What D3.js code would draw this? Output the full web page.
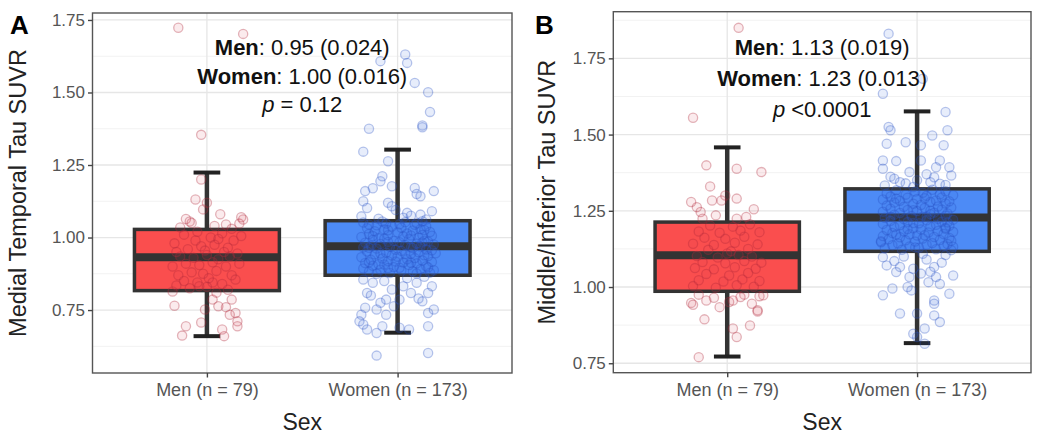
<!DOCTYPE html>
<html>
<head>
<meta charset="utf-8">
<script src="https://cdn.jsdelivr.net/npm/d3@7/dist/d3.min.js"></script>
<style>
  html, body { margin: 0; padding: 0; background: #fff; }
  svg { display: block; font-family: "Liberation Sans", Arial, sans-serif; }
</style>
</head>
<body>
<svg id="chart" width="1050" height="445"></svg>
<script>
// ---------------- DATA ----------------
const categories = ["Men (n = 79)", "Women (n = 173)"];
const yTicks = [0.75, 1.00, 1.25, 1.50, 1.75];
const yMinor = [0.625, 0.875, 1.125, 1.375, 1.625, 1.875];

// box stats: [lower whisker, Q1, median, Q3, upper whisker]
const medialMenBox   = [0.660, 0.817, 0.932, 1.028, 1.224];
const medialWomenBox = [0.672, 0.870, 0.970, 1.058, 1.303];
const inferiorMenBox   = [0.772, 0.986, 1.104, 1.213, 1.458];
const inferiorWomenBox = [0.816, 1.117, 1.228, 1.322, 1.576];

// jittered points: [horizontal jitter (fraction of category step), value]
const medialMenPts = [
  [-0.15,1.723],[0.19,1.702],[-0.03,1.354],[-0.03,1.200],[-0.06,1.131],[-0.02,1.097],[-0.11,1.064],[-0.08,1.050],[0.19,1.062],[0.17,1.048],[0.13,1.030],
  [-0.18,0.814],[-0.17,0.765],[-0.11,0.694],[-0.13,0.662],[-0.03,0.707],[-0.01,0.752],[0.03,0.786],[0.06,0.763],[0.10,0.760],[0.13,0.786],[0.15,0.740],[0.16,0.711],[0.16,0.694],[0.08,0.683],[0.09,0.660],[-0.04,0.832],[0.05,0.810],[0.03,0.845],[0.12,0.734],
  [0.04,1.040],[-0.14,1.035],[0.18,1.070],[-0.09,1.055],[0.10,1.045],[0.00,1.120],[0.07,1.080],
  [-0.17,0.98],[-0.12,1.01],[-0.05,1.02],[0.02,1.00],[0.08,1.015],[0.14,0.99],[0.18,1.005],
  [-0.16,0.95],[-0.10,0.96],[-0.03,0.97],[0.04,0.975],[0.11,0.965],[0.16,0.945],
  [-0.14,0.935],[-0.07,0.93],[0.00,0.94],[0.06,0.925],[0.12,0.935],[0.09,0.95],[-0.01,0.955],
  [-0.18,0.90],[-0.11,0.91],[-0.04,0.905],[0.03,0.915],[0.10,0.90],[0.17,0.91],
  [-0.15,0.87],[-0.08,0.88],[-0.02,0.875],[0.05,0.885],[0.13,0.87],
  [-0.12,0.85],[-0.05,0.845],[0.01,0.86],[0.08,0.84],[0.15,0.855],
  [-0.09,0.825],[0.00,0.83],[0.11,0.82],[-0.16,0.835],[0.06,0.995],[-0.06,0.99]
];
const medialWomenPts = [
  [0.04,1.631],[-0.09,1.608],[0.05,1.602],[0.09,1.533],[0.16,1.501],[0.17,1.433],[0.13,1.386],[0.13,1.380],[-0.15,1.375],[-0.18,1.296],[-0.05,1.263],[-0.08,1.211],[-0.09,1.194],[-0.03,1.177],[-0.17,1.160],[-0.13,1.170],[0.09,1.171],[0.12,1.142],[0.10,1.150],[0.19,1.160],[-0.18,1.125],[-0.16,1.102],[-0.05,1.120],[-0.03,1.108],[0.05,1.085],[0.18,1.091],[0.12,1.079],[-0.19,1.073],[0.03,1.068],
  [-0.16,0.809],[-0.06,0.786],[-0.09,0.775],[-0.11,0.752],[-0.17,0.758],[-0.19,0.734],[-0.20,0.711],[-0.18,0.700],[-0.16,0.683],[-0.11,0.671],[-0.08,0.694],[0.01,0.689],[0.06,0.683],[0.16,0.694],[0.16,0.740],[0.19,0.752],[0.18,0.832],[0.16,0.809],[0.03,0.832],[0.07,0.809],[-0.03,0.821],[-0.02,0.763],[-0.11,0.593],[0.16,0.602],[-0.13,0.844],[0.10,0.844],[-0.06,0.734],[0.01,0.786],[0.13,0.780],
  [-0.10,1.065],[0.15,1.062],[-0.01,1.095],[0.07,1.075],[-0.18,0.855],[0.05,0.860],[-0.07,0.850],[0.14,0.865],[-0.14,0.800],[0.11,0.790],
  [-0.15,0.882],[-0.04,0.878],[0.08,0.884],[0.17,0.879],[0.02,0.886],
  [-0.18,0.893],[-0.09,0.889],[0.01,0.896],[0.12,0.891],[0.19,0.887],
  [-0.13,0.903],[-0.02,0.898],[0.06,0.905],[0.15,0.901],[-0.07,0.907],
  [-0.17,0.912],[-0.10,0.908],[0.03,0.914],[0.10,0.911],[0.18,0.916],
  [-0.14,0.923],[-0.05,0.918],[0.05,0.925],[0.13,0.921],[-0.01,0.917],
  [-0.19,0.932],[-0.08,0.928],[0.00,0.934],[0.09,0.929],[0.16,0.936],
  [-0.12,0.942],[-0.03,0.938],[0.07,0.944],[0.14,0.939],[0.20,0.946],
  [-0.16,0.952],[-0.06,0.948],[0.02,0.954],[0.11,0.949],[0.18,0.956],
  [-0.11,0.962],[-0.01,0.958],[0.08,0.964],[0.15,0.959],[-0.18,0.966],
  [-0.14,0.972],[-0.04,0.968],[0.04,0.974],[0.12,0.969],[0.19,0.976],
  [-0.17,0.982],[-0.09,0.978],[0.01,0.984],[0.10,0.979],[0.16,0.986],
  [-0.13,0.992],[-0.02,0.988],[0.06,0.994],[0.14,0.989],[-0.07,0.996],
  [-0.19,1.002],[-0.10,0.998],[0.03,1.004],[0.11,0.999],[0.18,1.006],
  [-0.15,1.012],[-0.05,1.008],[0.05,1.014],[0.13,1.009],
  [-0.12,1.022],[0.00,1.018],[0.08,1.024],[0.17,1.019],
  [-0.16,1.032],[-0.07,1.028],[0.02,1.034],[0.12,1.029],
  [-0.11,1.042],[-0.03,1.038],[0.09,1.044],[0.15,1.039],
  [-0.18,1.052],[-0.06,1.048],[0.04,1.053],[0.10,1.049],
  [-0.11,0.875],[0.10,0.876],[-0.05,0.895],[0.16,0.897],[-0.15,0.915],[0.07,0.913],[-0.09,0.945],[0.04,0.943],[-0.15,0.965],[0.07,0.967],
  [-0.05,0.985],[0.13,0.983],[-0.13,1.005],[0.07,1.007],[-0.05,1.025],[0.14,1.026],[-0.15,1.045],[0.01,1.046],[-0.08,1.055],[0.13,1.056]
];
const inferiorMenPts = [
  [0.06,1.850],[-0.18,1.555],[-0.11,1.399],[0.05,1.388],[0.18,1.377],[-0.09,1.330],[0.05,1.290],[-0.08,1.284],[-0.03,1.284],[-0.19,1.279],[-0.16,1.262],[-0.14,1.246],[-0.13,1.224],[0.05,1.224],
  [-0.19,0.948],[-0.18,0.942],[-0.11,0.956],[-0.04,0.934],[-0.12,0.894],[0.03,0.864],[0.05,0.836],[0.12,0.874],[0.16,0.924],[0.16,0.920],[0.19,0.973],[0.17,0.970],[-0.15,0.770],[0.03,0.956],[0.07,0.967],[0.01,0.951],
  [-0.06,1.235],[0.10,1.230],[0.14,1.255],[-0.01,1.300],[0.09,0.975],[-0.07,0.965],[0.13,0.945],[-0.15,0.975],
  [-0.18,1.003],[-0.06,0.998],[0.05,1.006],[0.14,1.001],
  [-0.15,1.022],[-0.02,1.018],[0.08,1.025],[0.17,1.020],
  [-0.11,1.043],[0.01,1.038],[0.11,1.046],
  [-0.17,1.062],[-0.07,1.058],[0.04,1.065],[0.15,1.060],
  [-0.13,1.082],[-0.01,1.078],[0.09,1.085],[0.18,1.080],
  [-0.16,1.102],[-0.05,1.097],[0.06,1.105],[0.13,1.100],
  [-0.10,1.122],[0.02,1.117],[0.11,1.125],
  [-0.18,1.142],[-0.07,1.138],[0.04,1.145],[0.16,1.140],
  [-0.12,1.162],[-0.01,1.158],[0.09,1.165],
  [-0.15,1.182],[-0.04,1.178],[0.07,1.185],[0.17,1.180],
  [-0.09,1.202],[0.03,1.198],[0.12,1.206],[0.00,1.110]
];
const inferiorWomenPts = [
  [-0.15,1.831],[-0.18,1.634],[0.03,1.683],[0.15,1.574],[-0.15,1.525],[-0.14,1.514],[0.16,1.514],[0.08,1.497],[-0.06,1.475],[-0.16,1.470],[0.02,1.465],[0.14,1.465],[-0.18,1.415],[-0.11,1.413],[0.02,1.415],[0.12,1.415],[0.10,1.393],[0.17,1.393],[-0.18,1.388],[0.18,1.366],[-0.04,1.377],[0.05,1.370],[-0.09,1.344],[0.07,1.344],[0.12,1.339],[-0.17,1.333],[-0.02,1.328],
  [-0.18,1.098],[-0.16,1.071],[-0.11,1.049],[-0.09,1.066],[-0.04,1.033],[0.02,1.044],[0.06,1.016],[0.10,1.033],[0.09,1.066],[0.19,1.038],[0.17,0.978],[-0.18,0.973],[-0.13,0.995],[-0.09,0.913],[0.00,0.913],[0.09,0.956],[0.09,0.945],[0.09,0.907],[0.12,0.885],[0.04,0.864],[0.00,0.836],[0.04,0.814],[-0.02,0.847],[-0.03,0.989],[0.03,1.109],
  [0.00,1.350],[-0.12,1.355],[0.09,1.360],[-0.06,1.340],[0.15,1.335],[-0.14,1.362],
  [-0.07,1.100],[0.05,1.090],[0.13,1.080],[-0.12,1.085],[0.15,1.105],[-0.02,1.060],[0.07,1.050],[-0.05,1.000],[0.12,1.010],
  [-0.17,1.127],[-0.08,1.122],[0.01,1.129],[0.10,1.124],[0.18,1.121],
  [-0.13,1.137],[-0.04,1.133],[0.05,1.139],[0.14,1.134],
  [-0.19,1.147],[-0.10,1.143],[-0.01,1.149],[0.08,1.144],[0.16,1.141],
  [-0.15,1.157],[-0.06,1.153],[0.03,1.159],[0.12,1.154],
  [-0.18,1.167],[-0.09,1.163],[0.00,1.169],[0.09,1.164],[0.17,1.161],
  [-0.13,1.177],[-0.04,1.173],[0.06,1.179],[0.14,1.174],
  [-0.16,1.187],[-0.07,1.183],[0.02,1.189],[0.11,1.184],[0.19,1.181],
  [-0.12,1.197],[-0.02,1.193],[0.07,1.199],[0.15,1.194],
  [-0.18,1.207],[-0.09,1.203],[0.01,1.209],[0.10,1.204],[0.17,1.201],
  [-0.14,1.217],[-0.05,1.213],[0.05,1.219],[0.13,1.214],
  [-0.17,1.227],[-0.07,1.223],[0.02,1.229],[0.11,1.224],[0.19,1.221],
  [-0.12,1.237],[-0.03,1.233],[0.07,1.239],[0.15,1.234],
  [-0.18,1.247],[-0.09,1.243],[0.00,1.249],[0.09,1.244],[0.16,1.241],
  [-0.14,1.257],[-0.05,1.253],[0.04,1.259],[0.13,1.254],
  [-0.16,1.267],[-0.07,1.263],[0.02,1.269],[0.11,1.264],[0.18,1.261],
  [-0.12,1.277],[-0.02,1.273],[0.07,1.279],[0.15,1.274],
  [-0.18,1.287],[-0.09,1.283],[0.00,1.289],[0.10,1.284],[0.17,1.281],
  [-0.14,1.297],[-0.05,1.293],[0.05,1.299],[0.13,1.294],
  [-0.16,1.307],[-0.06,1.303],[0.03,1.309],[0.12,1.304],[0.19,1.301],
  [-0.11,1.317],[-0.01,1.313],[0.08,1.319],[0.15,1.314],
  [-0.01,1.130],[0.19,1.132],[-0.19,1.150],[0.18,1.152],[0.04,1.170],[-0.11,1.172],[-0.05,1.190],[0.15,1.191],
  [-0.02,1.210],[0.16,1.212],[-0.14,1.230],[0.05,1.231],[0.07,1.250],[-0.02,1.252],[-0.11,1.290],[0.04,1.291]
];

const annotA = { men: "0.95 (0.024)", women: "1.00 (0.016)", p: " = 0.12" };
const annotB = { men: "1.13 (0.019)", women: "1.23 (0.013)", p: " <0.0001" };

// ---------------- DRAW ----------------
const svg = d3.select("#chart");
const boxFill = ["#FA4E4E", "#4D8BF6"];
const ptFill = ["rgba(215,60,80,0.10)", "rgba(60,110,220,0.12)"];
const ptStroke = ["rgba(175,40,60,0.34)", "rgba(40,80,195,0.32)"];
const FONT = '"Liberation Sans", Arial, sans-serif';

function drawPanel(cfg) {
  const g = svg.append("g");
  const x = d3.scalePoint().domain(categories).range([cfg.left, cfg.right]).padding(0.6);
  const step = x.step();
  const y = d3.scaleLinear().domain(cfg.domain).range([cfg.bottom, cfg.top]);

  // grid
  const grid = g.append("g");
  grid.selectAll(".minor").data(yMinor.filter(v => v > cfg.domain[0] && v < cfg.domain[1]))
    .join("line").attr("x1", cfg.left).attr("x2", cfg.right)
    .attr("y1", d => y(d)).attr("y2", d => y(d))
    .attr("stroke", "#f2f2f2").attr("stroke-width", 1);
  grid.selectAll(".major").data(yTicks.filter(v => v > cfg.domain[0] && v < cfg.domain[1]))
    .join("line").attr("x1", cfg.left).attr("x2", cfg.right)
    .attr("y1", d => y(d)).attr("y2", d => y(d))
    .attr("stroke", "#e6e6e6").attr("stroke-width", 1.3);
  grid.selectAll(".vmajor").data(categories)
    .join("line").attr("x1", d => x(d)).attr("x2", d => x(d))
    .attr("y1", cfg.top).attr("y2", cfg.bottom)
    .attr("stroke", "#e6e6e6").attr("stroke-width", 1.3);

  // boxes
  const boxW = step * 0.76, capW = step * 0.14;
  cfg.boxes.forEach((b, i) => {
    const cx = x(categories[i]);
    const bg = g.append("g");
    bg.append("line").attr("x1", cx).attr("x2", cx).attr("y1", y(b[3])).attr("y2", y(b[4]))
      .attr("stroke", "#333").attr("stroke-width", 4.5);
    bg.append("line").attr("x1", cx).attr("x2", cx).attr("y1", y(b[1])).attr("y2", y(b[0]))
      .attr("stroke", "#333").attr("stroke-width", 4.5);
    [b[0], b[4]].forEach(v => {
      bg.append("line").attr("x1", cx - capW / 2).attr("x2", cx + capW / 2)
        .attr("y1", y(v)).attr("y2", y(v)).attr("stroke", "#222").attr("stroke-width", 4);
    });
    bg.append("rect").attr("x", cx - boxW / 2).attr("width", boxW)
      .attr("y", y(b[3])).attr("height", y(b[1]) - y(b[3]))
      .attr("fill", boxFill[i]).attr("stroke", "#333").attr("stroke-width", 3.5);
    bg.append("line").attr("x1", cx - boxW / 2).attr("x2", cx + boxW / 2)
      .attr("y1", y(b[2])).attr("y2", y(b[2])).attr("stroke", "#333").attr("stroke-width", 8);
  });

  // points
  cfg.points.forEach((pts, i) => {
    const cx = x(categories[i]);
    g.append("g").selectAll("circle").data(pts).join("circle")
      .attr("cx", d => cx + d[0] * step)
      .attr("cy", d => y(d[1]))
      .attr("r", 4.6)
      .attr("fill", ptFill[i])
      .attr("stroke", ptStroke[i])
      .attr("stroke-width", 1.3);
  });

  // border
  g.append("rect").attr("x", cfg.left).attr("y", cfg.top)
    .attr("width", cfg.right - cfg.left).attr("height", cfg.bottom - cfg.top)
    .attr("fill", "none").attr("stroke", "#555").attr("stroke-width", 1.4);

  // y axis
  const yAxis = g.append("g").attr("transform", `translate(${cfg.left},0)`)
    .call(d3.axisLeft(y).tickValues(yTicks).tickFormat(d3.format(".2f")).tickSize(4.5).tickPadding(3));
  yAxis.select(".domain").remove();
  yAxis.selectAll(".tick line").attr("stroke", "#444").attr("stroke-width", 1.4);
  yAxis.selectAll(".tick text").attr("fill", "#555").style("font-size", "17px").style("font-family", FONT);

  // x axis
  const xAxis = g.append("g").attr("transform", `translate(0,${cfg.bottom})`)
    .call(d3.axisBottom(x).tickSize(4.5).tickPadding(6));
  xAxis.select(".domain").remove();
  xAxis.selectAll(".tick line").attr("stroke", "#444").attr("stroke-width", 1.4);
  xAxis.selectAll(".tick text").attr("fill", "#555").style("font-size", "18px").style("font-family", FONT);

  // titles
  const midX = (cfg.left + cfg.right) / 2;
  g.append("text").attr("x", midX).attr("y", 430).attr("text-anchor", "middle")
    .style("font-size", "23px").attr("fill", "#222").text("Sex");
  g.append("text").attr("transform", `translate(${cfg.ytitleX},${(cfg.top + cfg.bottom) / 2}) rotate(-90)`)
    .attr("text-anchor", "middle").style("font-size", "23.5px").attr("fill", "#222").text(cfg.ytitle);
  g.append("text").attr("x", cfg.labelX).attr("y", 34).style("font-size", "26px")
    .style("font-weight", "bold").attr("fill", "#000").text(cfg.label);

  // annotation
  const a = cfg.annot;
  const t1 = g.append("text").attr("x", midX).attr("y", cfg.annY[0]).attr("text-anchor", "middle")
    .style("font-size", "22px").attr("fill", "#111");
  t1.append("tspan").style("font-weight", "bold").text("Men");
  t1.append("tspan").text(": " + a.men);
  const t2 = g.append("text").attr("x", midX).attr("y", cfg.annY[1]).attr("text-anchor", "middle")
    .style("font-size", "22px").attr("fill", "#111");
  t2.append("tspan").style("font-weight", "bold").text("Women");
  t2.append("tspan").text(": " + a.women);
  const t3 = g.append("text").attr("x", midX).attr("y", cfg.annY[2]).attr("text-anchor", "middle")
    .style("font-size", "22px").attr("fill", "#111");
  t3.append("tspan").style("font-style", "italic").text("p");
  t3.append("tspan").text(a.p);
}

drawPanel({
  left: 92.5, right: 512, top: 13, bottom: 373, domain: [0.533, 1.774],
  boxes: [medialMenBox, medialWomenBox], points: [medialMenPts, medialWomenPts],
  ytitle: "Medial Temporal Tau SUVR", ytitleX: 26, label: "A", labelX: 10,
  annot: annotA, annY: [55, 83.5, 112]
});
drawPanel({
  left: 613.3, right: 1031, top: 11.7, bottom: 372.7, domain: [0.719, 1.903],
  boxes: [inferiorMenBox, inferiorWomenBox], points: [inferiorMenPts, inferiorWomenPts],
  ytitle: "Middle/Inferior Tau SUVR", ytitleX: 555, label: "B", labelX: 535,
  annot: annotB, annY: [55, 86, 116.5]
});
</script>
</body>
</html>
